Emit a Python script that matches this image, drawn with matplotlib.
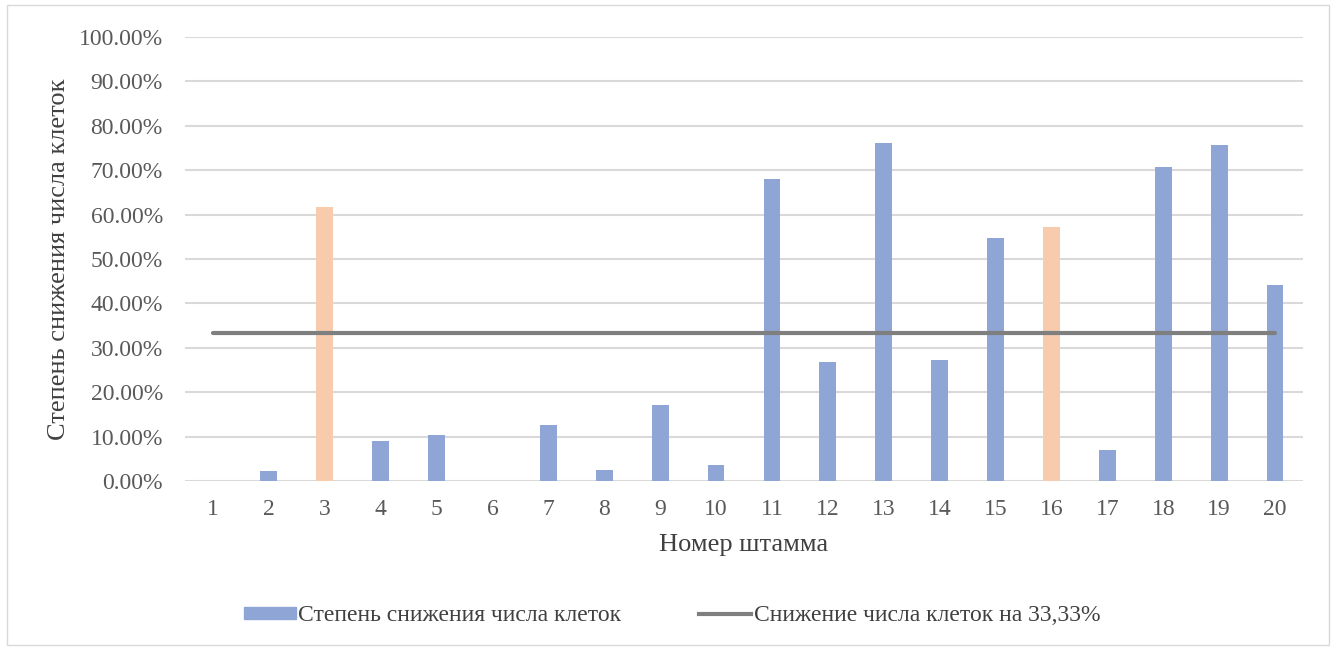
import numpy as np
import matplotlib
matplotlib.use("Agg")
from matplotlib import pyplot as plt
from matplotlib.patches import Rectangle, Patch
from matplotlib.lines import Line2D
from matplotlib.ticker import FuncFormatter

# data
strains = [str(i) for i in range(1, 21)]
reduction = [0.0, 2.3, 61.6, 9.0, 10.4, 0.0, 12.6, 2.5, 17.1, 3.6,
             68.0, 26.8, 76.1, 27.2, 54.7, 57.3, 6.9, 70.7, 75.6, 44.1]
highlighted = ['3', '16']
threshold = 33.33

blue = '#8FA5D5'
orange = '#F8CBAD'
grey_line = '#7F7F7F'

plt.rcParams['font.family'] = ['Liberation Serif', 'DejaVu Serif']

fig = plt.figure(figsize=(13.36, 6.47), dpi=100)
ax = fig.add_axes([0.1385, 0.2566, 0.8368, 0.6862])

x = np.arange(len(strains))
colors = [orange if s in highlighted else blue for s in strains]
ax.bar(x, reduction, width=0.3, color=colors, zorder=3)
ax.plot(x, [threshold] * len(x), color=grey_line, lw=3, solid_capstyle='round', zorder=4)

ax.set_xlim(-0.5, len(strains) - 0.5)
ax.set_ylim(0, 100)
ax.set_yticks(np.arange(0, 101, 10))
ax.yaxis.set_major_formatter(FuncFormatter(lambda v, p: f'{v:.2f}%'))
ax.set_xticks(x)
ax.set_xticklabels(strains)
ax.grid(axis='y', color='#D9D9D9', lw=1.5, zorder=0)
for s in ax.spines.values():
    s.set_visible(False)
ax.tick_params(length=0, labelsize=17, labelcolor='#595959')
ax.tick_params(axis='x', pad=13)
ax.tick_params(axis='y', pad=16)

ax.set_xlabel('Номер штамма', fontsize=19, color='#404040', labelpad=10)
fig.text(0.044, 0.6, 'Степень снижения числа клеток', rotation=90,
         fontsize=19, color='#404040', ha='center', va='center')

handles = [Patch(color=blue), Line2D([], [], color=grey_line, lw=3)]
labels = ['Степень снижения числа клеток', 'Снижение числа клеток на 33,33%']
fig.legend(handles, labels, loc='center', bbox_to_anchor=(0.503, 0.048), ncol=2,
           frameon=False, fontsize=17, labelcolor='#404040',
           handlelength=2.2, handleheight=0.45, columnspacing=3.3, handletextpad=0.1)

fig.add_artist(Rectangle((0.005, 0.003), 0.99, 0.99, transform=fig.transFigure,
                         fill=False, edgecolor='#D9D9D9', lw=1))

fig.savefig('out.png', dpi=100)
